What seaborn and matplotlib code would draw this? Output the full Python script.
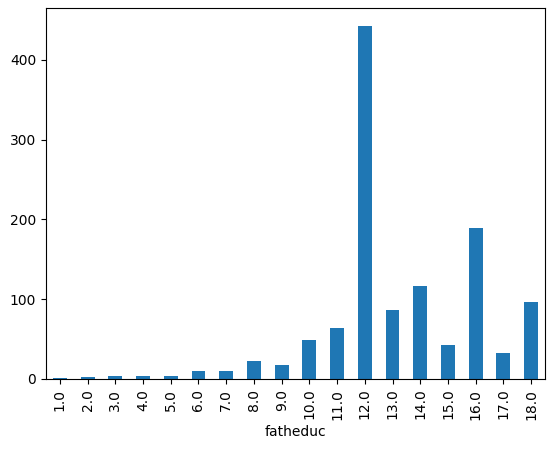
import matplotlib
matplotlib.use("Agg")
import matplotlib.pyplot as plt
import seaborn as sns
import pandas as pd

categories = ["1.0", "2.0", "3.0", "4.0", "5.0", "6.0", "7.0", "8.0", "9.0",
              "10.0", "11.0", "12.0", "13.0", "14.0", "15.0", "16.0", "17.0", "18.0"]
counts = [1, 2, 4, 4, 4, 10, 10, 23, 17, 49, 64, 443, 87, 116, 43, 189, 33, 97]

df = pd.DataFrame({"fatheduc": categories, "count": counts})

plt.rcParams.update(matplotlib.rcParamsDefault)
fig = plt.figure(figsize=(5.52, 4.49), dpi=100)
ax = fig.add_axes([46 / 552, 1 - 379 / 449, 499 / 552, 371 / 449])

sns.barplot(data=df, x="fatheduc", y="count", color="#1f77b4", saturation=1,
            width=0.5, ax=ax, order=categories)
ax.set_xlim(-0.5, len(categories) - 0.5)
ax.set_ylim(0, 465)
ax.set_ylabel("")
ax.set_xlabel("fatheduc")
ax.tick_params(axis="x", labelrotation=90)
for s in ax.spines.values():
    s.set_visible(True)

fig.savefig("out.png", dpi=100)
